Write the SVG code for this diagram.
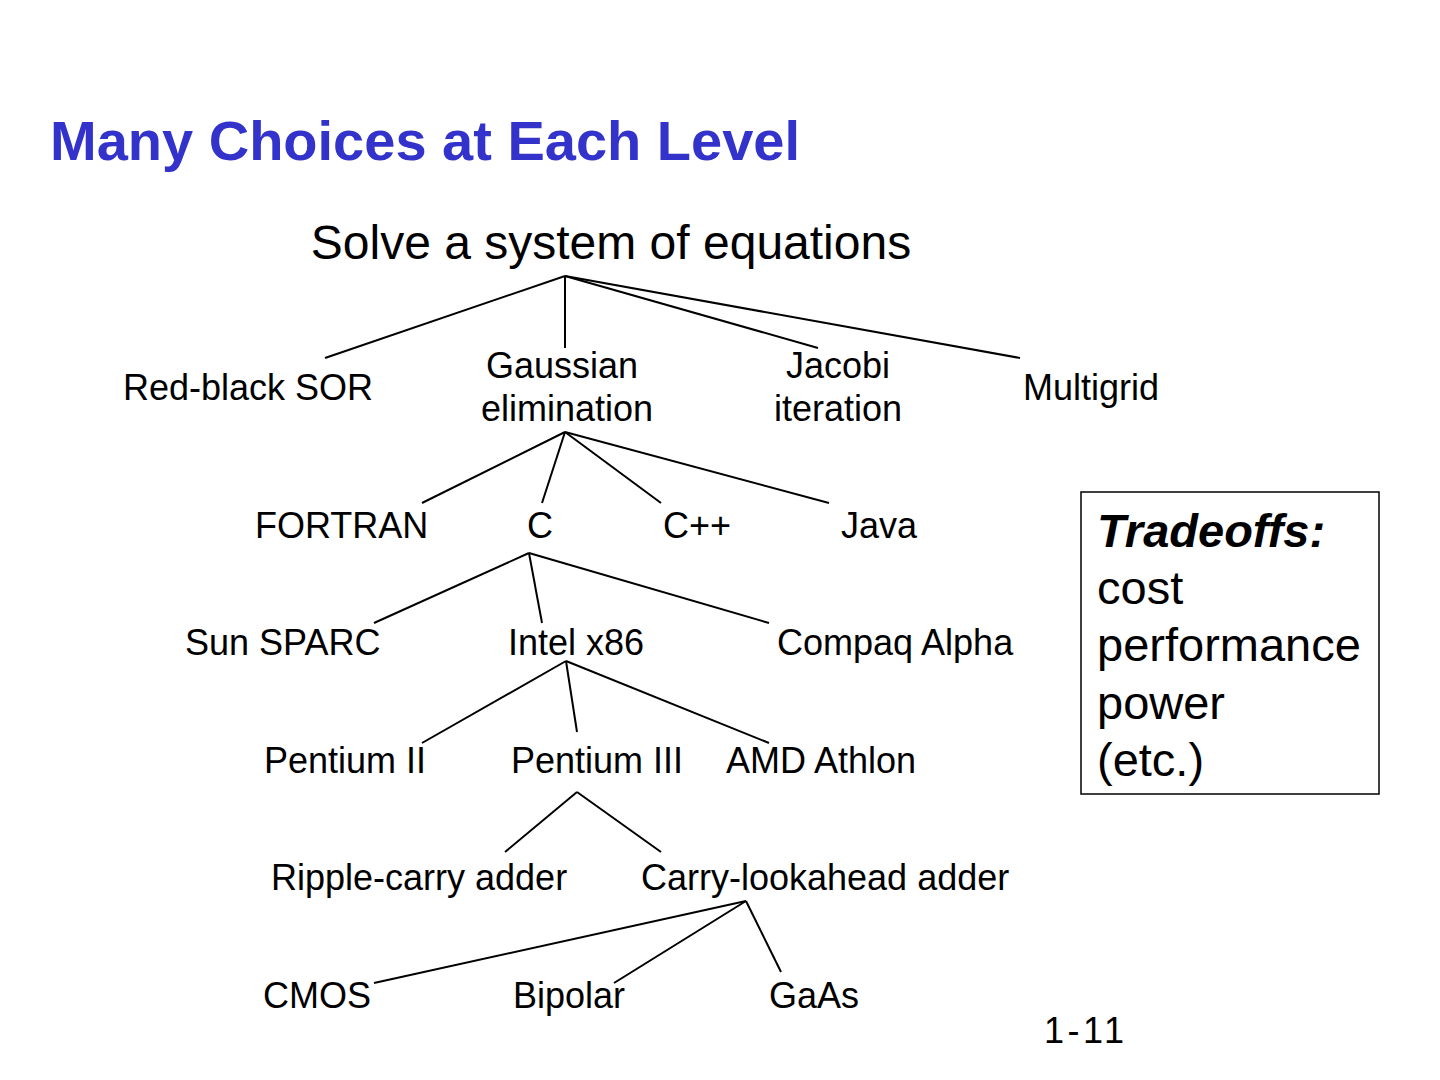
<svg xmlns="http://www.w3.org/2000/svg" width="1440" height="1080" viewBox="0 0 1440 1080">
<style>
text{font-family:"Liberation Sans",Arial,sans-serif;fill:#000}
.t{font-size:56px;font-weight:bold;fill:#3333CC}
.n{font-size:36px}
.r{font-size:48px}
.b{font-size:47px}
.c line{stroke:#000;stroke-width:2}
</style>
<rect width="1440" height="1080" fill="#fff"/>
<text class="t" x="50" y="160">Many Choices at Each Level</text>
<g class="c" id="connectors">
<line x1="565" y1="276" x2="325" y2="358"/>
<line x1="565" y1="276" x2="565" y2="348"/>
<line x1="565" y1="276" x2="818" y2="348"/>
<line x1="565" y1="276" x2="1020" y2="358"/>
<line x1="565" y1="432" x2="422" y2="503"/>
<line x1="565" y1="432" x2="542" y2="503"/>
<line x1="565" y1="432" x2="661" y2="503"/>
<line x1="565" y1="432" x2="829" y2="503"/>
<line x1="529" y1="553" x2="374" y2="623"/>
<line x1="529" y1="553" x2="542" y2="623"/>
<line x1="529" y1="553" x2="769" y2="623"/>
<line x1="566" y1="661" x2="422" y2="743"/>
<line x1="566" y1="661" x2="577" y2="732"/>
<line x1="566" y1="661" x2="769" y2="743"/>
<line x1="577" y1="792" x2="505" y2="852"/>
<line x1="577" y1="792" x2="661" y2="852"/>
<line x1="746" y1="901" x2="374" y2="983"/>
<line x1="746" y1="901" x2="614" y2="983"/>
<line x1="746" y1="901" x2="781" y2="972"/>
</g>
<g id="root"><text class="r" x="611" y="259" text-anchor="middle">Solve a system of equations</text></g>
<g id="redblack"><text class="n" x="123" y="400">Red-black SOR</text></g>
<g id="gaussian"><text class="n" x="562" y="378" text-anchor="middle">Gaussian</text><text class="n" x="567" y="421" text-anchor="middle">elimination</text></g>
<g id="jacobi"><text class="n" x="838" y="378" text-anchor="middle">Jacobi</text><text class="n" x="838" y="421" text-anchor="middle">iteration</text></g>
<g id="multigrid"><text class="n" x="1023" y="400">Multigrid</text></g>
<g id="fortran"><text class="n" x="255" y="538">FORTRAN</text></g>
<g id="c"><text class="n" x="527" y="538">C</text></g>
<g id="cpp"><text class="n" x="663" y="538">C++</text></g>
<g id="java"><text class="n" x="841" y="538">Java</text></g>
<g id="sparc"><text class="n" x="185" y="655">Sun SPARC</text></g>
<g id="intel"><text class="n" x="508" y="655">Intel x86</text></g>
<g id="alpha"><text class="n" x="777" y="655">Compaq Alpha</text></g>
<g id="p2"><text class="n" x="264" y="773">Pentium II</text></g>
<g id="p3"><text class="n" x="511" y="773">Pentium III</text></g>
<g id="amd"><text class="n" x="726" y="773">AMD Athlon</text></g>
<g id="ripple"><text class="n" x="271" y="890">Ripple-carry adder</text></g>
<g id="cla"><text class="n" x="641" y="890">Carry-lookahead adder</text></g>
<g id="cmos"><text class="n" x="263" y="1008">CMOS</text></g>
<g id="bipolar"><text class="n" x="513" y="1008">Bipolar</text></g>
<g id="gaas"><text class="n" x="769" y="1008">GaAs</text></g>
<g id="tradeoffs">
<rect x="1081" y="492" width="298" height="302" fill="#fff" stroke="#000" stroke-width="1.5"/>
<text class="b" x="1097" y="547" font-weight="bold" font-style="italic">Tradeoffs:</text>
<text class="b" x="1097" y="604">cost</text>
<text class="b" x="1097" y="661">performance</text>
<text class="b" x="1097" y="719">power</text>
<text class="b" x="1097" y="776">(etc.)</text>
</g>
<text class="n" x="1044" y="1043" textLength="80" lengthAdjust="spacing">1-11</text>
</svg>
